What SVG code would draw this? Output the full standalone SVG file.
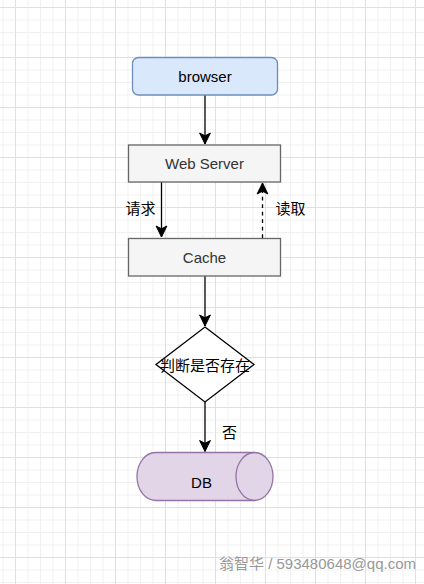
<svg xmlns="http://www.w3.org/2000/svg" width="424" height="584" viewBox="0 0 424 584">
<style>
.t{font-family:"Liberation Sans","Noto Sans CJK SC",sans-serif;font-size:15px;text-anchor:middle}
.edge{fill:none;stroke:#000;stroke-width:1.3}
.box{fill:#f5f5f5;stroke:#666;stroke-width:1.3}
</style>
<defs>
<pattern id="minor" width="12.5" height="12.5" x="15" y="7" patternUnits="userSpaceOnUse">
<path d="M0.5,0 V12.5 M0,0.5 H12.5" fill="none" stroke="#f0f0f0" stroke-width="1"/>
</pattern>
<pattern id="major" width="50" height="50" x="15" y="7" patternUnits="userSpaceOnUse">
<path d="M0.5,0 V50 M0,0.5 H50" fill="none" stroke="#e0e0e0" stroke-width="1"/>
</pattern>
<marker id="arr" markerUnits="userSpaceOnUse" markerWidth="14" markerHeight="14" viewBox="0 0 14 14" refX="12" refY="7" orient="auto">
<path d="M1,1.6 L12,7 L1,12.4 L3.8,7 Z" fill="#000" stroke="#000" stroke-width="1"/>
</marker>
</defs>
<rect width="424" height="584" fill="#fff"/>
<rect width="424" height="584" fill="url(#minor)"/>
<rect width="424" height="584" fill="url(#major)"/>

<g id="connectors">
<path class="edge" d="M205,95 V144" marker-end="url(#arr)"/>
<path class="edge" d="M161.5,182 V237" marker-end="url(#arr)"/>
<path class="edge" d="M262.5,238 V183" stroke-dasharray="3.75 3.75" marker-end="url(#arr)"/>
<path class="edge" d="M205,276 V326" marker-end="url(#arr)"/>
<path class="edge" d="M205,402 V451.5" marker-end="url(#arr)"/>
<text class="t" x="140.5" y="214">请求</text>
<text class="t" x="290.5" y="214">读取</text>
<text class="t" x="229.5" y="438">否</text>
</g>

<g id="browser">
<rect x="132.5" y="57.5" width="145" height="37.5" rx="6" fill="#dae8fc" stroke="#6c8ebf" stroke-width="1.3"/>
<text class="t" x="205" y="82" fill="#000">browser</text>
</g>

<g id="webserver">
<rect class="box" x="128.5" y="145" width="152" height="37"/>
<text class="t" x="204.5" y="169" fill="#333">Web Server</text>
</g>

<g id="cache">
<rect class="box" x="128.5" y="238.5" width="152" height="37.5"/>
<text class="t" x="204.5" y="262.5" fill="#333">Cache</text>
</g>

<g id="decision">
<polygon points="205,327 254,364.5 205,402 156,364.5" fill="#fff" stroke="#000" stroke-width="1.3"/>
<text class="t" x="205" y="370.5" fill="#000">判断是否存在</text>
</g>

<g id="db">
<path d="M155.5,452.5 L254.5,452.5 A18.5,24 0 0 1 254.5,500.5 L155.5,500.5 A18.5,24 0 0 1 155.5,452.5 Z" fill="#e1d5e7" stroke="#9673a6" stroke-width="1.3"/>
<path d="M254.5,452.5 A18.5,24 0 0 0 254.5,500.5" fill="none" stroke="#9673a6" stroke-width="1.3"/>
<text class="t" x="201.5" y="488" fill="#000">DB</text>
</g>

<text x="219" y="568.5" font-family="'Liberation Sans','Noto Sans CJK SC',sans-serif" font-size="15" fill="#999">翁智华 / 593480648@qq.com</text>
</svg>
